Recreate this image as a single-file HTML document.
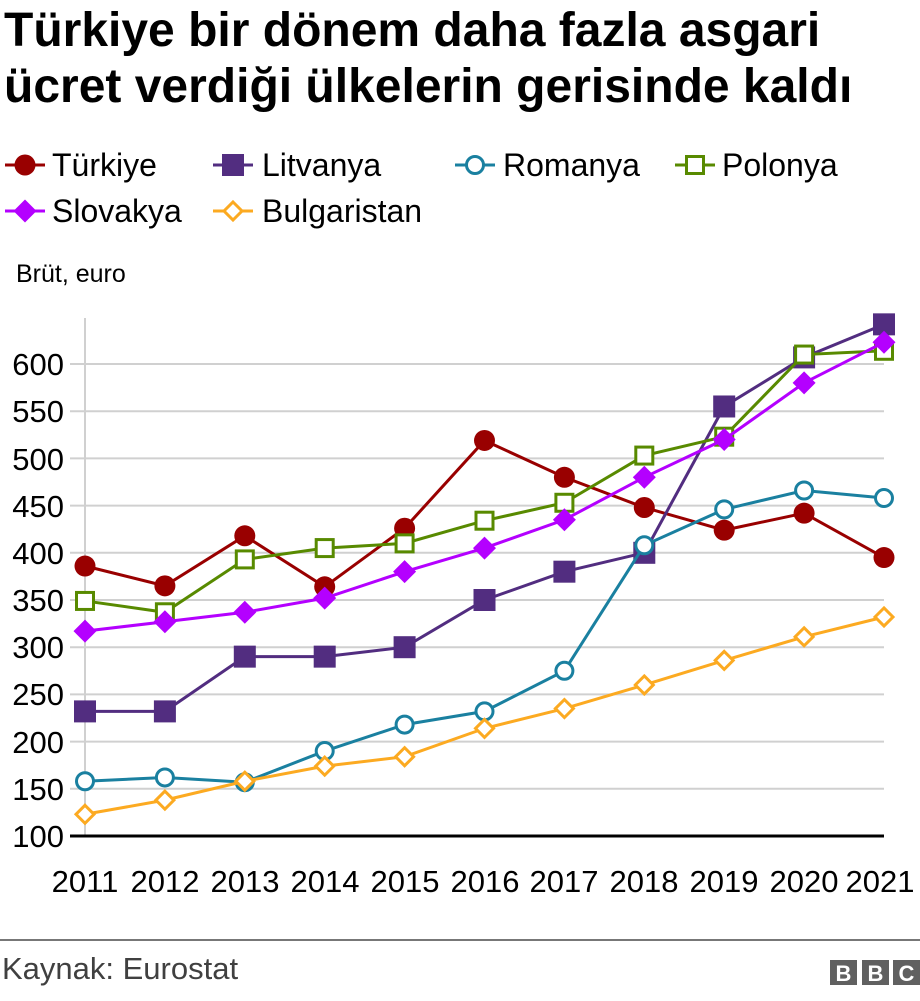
<!DOCTYPE html>
<html><head><meta charset="utf-8"><style>
body{margin:0;background:#fff;width:920px;height:996px;overflow:hidden;font-family:"Liberation Sans",sans-serif}
</style></head><body>
<svg width="920" height="996" xmlns="http://www.w3.org/2000/svg" font-family="Liberation Sans, sans-serif">
<text x="4" y="46" font-size="48" font-weight="bold" fill="#000">Türkiye bir dönem daha fazla asgari</text>
<text x="4" y="102" font-size="48" font-weight="bold" fill="#000">ücret verdiği ülkelerin gerisinde kaldı</text>
<g font-size="32" fill="#000">
<text x="52" y="176">Türkiye</text><text x="262" y="176">Litvanya</text>
<text x="503" y="176">Romanya</text><text x="722" y="176">Polonya</text>
<text x="52" y="222">Slovakya</text><text x="262" y="222">Bulgaristan</text>
</g>
<text x="16" y="282" font-size="25" fill="#000">Brüt, euro</text>
<g id="grid"></g>
<g font-size="31" fill="#000" text-anchor="end">
<text x="64" y="375">600</text><text x="64" y="422">550</text><text x="64" y="470">500</text>
<text x="64" y="517">450</text><text x="64" y="564">400</text><text x="64" y="611">350</text>
<text x="64" y="658">300</text><text x="64" y="705">250</text><text x="64" y="753">200</text>
<text x="64" y="800">150</text><text x="64" y="847">100</text>
</g>
<g font-size="31" fill="#000" text-anchor="middle">
<text x="85" y="892">2011</text><text x="165" y="892">2012</text><text x="245" y="892">2013</text>
<text x="325" y="892">2014</text><text x="405" y="892">2015</text><text x="485" y="892">2016</text>
<text x="564" y="892">2017</text><text x="644" y="892">2018</text><text x="724" y="892">2019</text>
<text x="804" y="892">2020</text><text x="880" y="892">2021</text>
</g>
<g id="series"></g>
<g id="legend"></g>
<line x1="0" y1="940" x2="920" y2="940" stroke="#777" stroke-width="2"/>
<text x="2" y="979" font-size="31" fill="#404040">Kaynak: Eurostat</text>
<g fill="#606060"><rect x="830" y="960" width="27" height="25"/><rect x="862" y="960" width="27" height="25"/><rect x="893" y="960" width="27" height="25"/></g>
<g fill="#fff" font-size="22" font-weight="bold" text-anchor="middle"><text x="843.5" y="981">B</text><text x="875.5" y="981">B</text><text x="906.5" y="981">C</text></g>
</svg>
<script>
const NS="http://www.w3.org/2000/svg";
function el(p,t,a){const e=document.createElementNS(NS,t);for(const k in a)e.setAttribute(k,a[k]);p.appendChild(e);return e;}
const g=document.getElementById('grid');
for(let v=150;v<=600;v+=50){const y=836-(v-100)*0.944;el(g,'line',{x1:70,x2:884,y1:y,y2:y,stroke:'#d0d0d0','stroke-width':2});}
el(g,'line',{x1:85,x2:85,y1:318,y2:836,stroke:'#d0d0d0','stroke-width':2});
el(g,'line',{x1:70,x2:884,y1:836,y2:836,stroke:'#000','stroke-width':3});
const S=[
{c:'#990000',m:'circ',f:1,d:[386,365,418,364,426,519,480,448,424,442,395]},
{c:'#522d80',m:'sq',f:1,d:[232,232,290,290,300,350,380,400,555,607,642]},
{c:'#1a80a0',m:'circ',f:0,d:[158,162,157,190,218,232,275,408,446,466,458]},
{c:'#588a00',m:'sq',f:0,d:[349,337,393,405,410,434,453,503,523,610,614]},
{c:'#b400ff',m:'dia',f:1,d:[317,327,337,352,380,405,435,480,520,580,623]},
{c:'#fcaa21',m:'dia',f:0,d:[123,138,158,174,184,214,235,260,286,311,332]}];
function mk(p,s,x,y,sc){const fill=s.f?s.c:'#fff',sw=s.f?0:3;
 if(s.m=='circ')el(p,'circle',{cx:x,cy:y,r:(s.f?10.5:8.5)*sc,fill,stroke:s.c,'stroke-width':sw});
 else if(s.m=='sq'){const h=(s.f?11:8.5)*sc;el(p,'rect',{x:x-h,y:y-h,width:2*h,height:2*h,fill,stroke:s.c,'stroke-width':sw});}
 else{const h=(s.f?11.5:9)*sc;el(p,'polygon',{points:`${x},${y-h} ${x+h},${y} ${x},${y+h} ${x-h},${y}`,fill,stroke:s.c,'stroke-width':sw});}}
const sg=document.getElementById('series');
S.forEach(s=>{const pts=s.d.map((v,i)=>[85+i*79.9,836-(v-100)*0.944]);
 el(sg,'polyline',{points:pts.map(p=>p.join(',')).join(' '),fill:'none',stroke:s.c,'stroke-width':3});
 pts.forEach(p=>mk(sg,s,p[0],p[1],1));});
const lg=document.getElementById('legend');
const L=[[0,25,165],[1,233,165],[2,475,165],[3,695,165],[4,25,211],[5,233,211]];
L.forEach(([i,x,y])=>{el(lg,'line',{x1:x-20,x2:x+20,y1:y,y2:y,stroke:S[i].c,'stroke-width':3});mk(lg,S[i],x,y,1);});
</script>
</body></html>
